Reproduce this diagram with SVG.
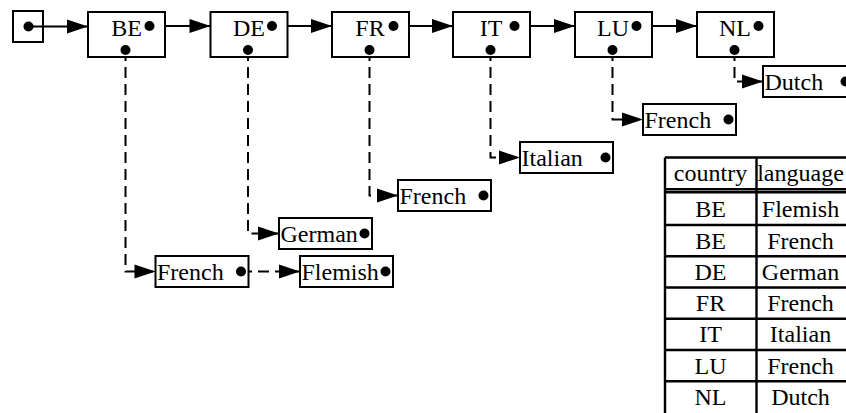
<svg xmlns="http://www.w3.org/2000/svg" width="846" height="413" viewBox="0 0 846 413" font-family="'Liberation Serif', 'Times New Roman', serif">
<defs>
<marker id="arr" markerUnits="userSpaceOnUse" markerWidth="21" markerHeight="14" refX="21" refY="7" orient="auto" overflow="visible">
<path d="M0,0 L21,7 L0,14 Z" fill="#000"/>
</marker>
<style>
text{font-family:'Liberation Serif','Times New Roman',serif;font-size:24px;fill:#000}
.box{fill:#fff;stroke:#000;stroke-width:2}
.dot{fill:#000}
.lnk{fill:none;stroke:#000;stroke-width:2;marker-end:url(#arr)}
.dash{fill:none;stroke:#000;stroke-width:2;stroke-dasharray:11,6;marker-end:url(#arr)}
.c{text-anchor:middle}
.tl{stroke:#000;stroke-width:2.4;fill:none}
</style>
</defs>
<rect width="846" height="413" fill="#fff"/>

<g id="connectors">
<path class="lnk" d="M28.5,26.5 H88"/>
<path class="lnk" d="M149.5,26 H210.5"/>
<path class="lnk" d="M272,26 H332"/>
<path class="lnk" d="M393.5,26 H453"/>
<path class="lnk" d="M514.5,26 H575"/>
<path class="lnk" d="M636.5,26 H697"/>
<path class="dash" d="M125.5,50 V271.5 H155.5"/>
<path class="dash" d="M248,50 V233.5 H279"/>
<path class="dash" d="M369.5,50 V195.5 H398"/>
<path class="dash" d="M490.5,50 V157.5 H520"/>
<path class="dash" d="M612.5,50 V119.5 H643"/>
<path class="dash" d="M734.5,50 V81.5 H763"/>
<path class="dash" d="M241,271.5 H300"/>
</g>

<g id="head">
<rect class="box" x="13" y="11" width="30" height="31" fill-opacity="0"/>
<circle class="dot" cx="28.5" cy="26.5" r="5"/>
</g>

<g id="node-BE">
<rect class="box" x="88" y="12" width="77" height="45"/>
<text class="c" x="126.5" y="35.5">BE</text>
<circle class="dot" cx="149.5" cy="26" r="5"/>
<circle class="dot" cx="125.5" cy="50" r="5"/>
</g>
<g id="node-DE">
<rect class="box" x="210.5" y="12" width="77" height="45"/>
<text class="c" x="249" y="35.5">DE</text>
<circle class="dot" cx="272" cy="26" r="5"/>
<circle class="dot" cx="248" cy="50" r="5"/>
</g>
<g id="node-FR">
<rect class="box" x="332" y="12" width="77" height="45"/>
<text class="c" x="370" y="35.5">FR</text>
<circle class="dot" cx="393.5" cy="26" r="5"/>
<circle class="dot" cx="369.5" cy="50" r="5"/>
</g>
<g id="node-IT">
<rect class="box" x="453" y="12" width="77" height="45"/>
<text class="c" x="491" y="35.5">IT</text>
<circle class="dot" cx="514.5" cy="26" r="5"/>
<circle class="dot" cx="490.5" cy="50" r="5"/>
</g>
<g id="node-LU">
<rect class="box" x="575" y="12" width="77" height="45"/>
<text class="c" x="613" y="35.5">LU</text>
<circle class="dot" cx="636.5" cy="26" r="5"/>
<circle class="dot" cx="612.5" cy="50" r="5"/>
</g>
<g id="node-NL">
<rect class="box" x="697" y="12" width="77" height="45"/>
<text class="c" x="735" y="35.5">NL</text>
<circle class="dot" cx="758.5" cy="26" r="5"/>
<circle class="dot" cx="734.5" cy="50" r="5"/>
</g>

<g id="val-BE-French">
<rect class="box" x="155.5" y="256" width="93" height="31"/>
<text x="157" y="279.5">French</text>
<circle class="dot" cx="241" cy="271.5" r="5"/>
</g>
<g id="val-BE-Flemish">
<rect class="box" x="300" y="256" width="93" height="31"/>
<text x="301.5" y="279.5">Flemish</text>
<circle class="dot" cx="385.5" cy="271.5" r="5"/>
</g>
<g id="val-DE-German">
<rect class="box" x="279" y="218" width="93" height="31"/>
<text x="280.5" y="241.5">German</text>
<circle class="dot" cx="364.5" cy="233.5" r="5"/>
</g>
<g id="val-FR-French">
<rect class="box" x="398" y="180" width="93" height="31"/>
<text x="399.5" y="203.5">French</text>
<circle class="dot" cx="483.5" cy="195.5" r="5"/>
</g>
<g id="val-IT-Italian">
<rect class="box" x="520" y="142" width="93" height="31"/>
<text x="521.5" y="165.5">Italian</text>
<circle class="dot" cx="605.5" cy="157.5" r="5"/>
</g>
<g id="val-LU-French">
<rect class="box" x="643" y="104" width="93" height="31"/>
<text x="644.5" y="127.5">French</text>
<circle class="dot" cx="728.5" cy="119.5" r="5"/>
</g>
<g id="val-NL-Dutch">
<rect class="box" x="763" y="66" width="93" height="31"/>
<text x="764.5" y="89.5">Dutch</text>
<circle class="dot" cx="845.5" cy="81.5" r="5"/>
</g>

<g id="table">
<path class="tl" d="M665,157.5 H850 M665,157.5 V420 M756.5,157.5 V420 M665,189.3 H850 M665,192.3 H850 M665,225 H850 M665,256.3 H850 M665,287.5 H850 M665,318.8 H850 M665,350 H850 M665,381.3 H850"/>
<text class="c" x="710.5" y="181">country</text>
<text class="c" x="800.5" y="181">language</text>
<text class="c" x="710.5" y="217">BE</text>
<text class="c" x="800.5" y="217">Flemish</text>
<text class="c" x="710.5" y="248.5">BE</text>
<text class="c" x="800.5" y="248.5">French</text>
<text class="c" x="710.5" y="279.8">DE</text>
<text class="c" x="800.5" y="279.8">German</text>
<text class="c" x="710.5" y="311">FR</text>
<text class="c" x="800.5" y="311">French</text>
<text class="c" x="710.5" y="342.3">IT</text>
<text class="c" x="800.5" y="342.3">Italian</text>
<text class="c" x="710.5" y="373.5">LU</text>
<text class="c" x="800.5" y="373.5">French</text>
<text class="c" x="710.5" y="404.8">NL</text>
<text class="c" x="800.5" y="404.8">Dutch</text>
</g>
</svg>
